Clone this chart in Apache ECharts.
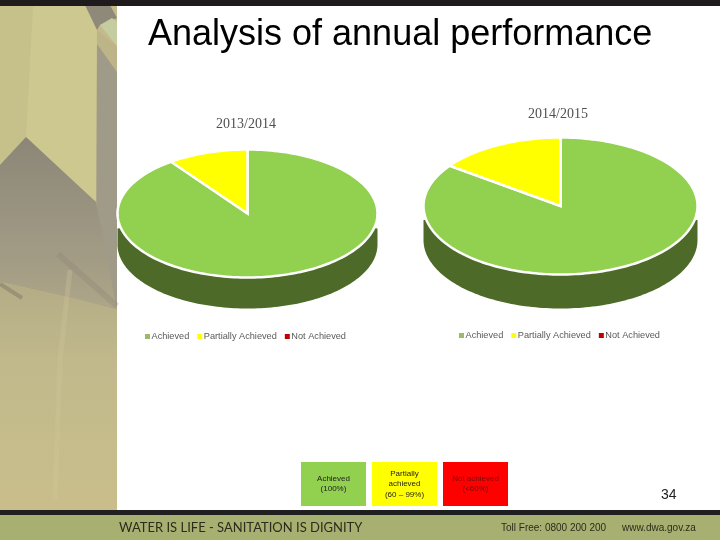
<!DOCTYPE html>
<html>
<head>
<meta charset="utf-8">
<style>
  html, body { margin: 0; padding: 0; background: #fff; }
  #chart { width: 720px; height: 540px; }
</style>
<script src="https://cdn.jsdelivr.net/npm/echarts@6/dist/echarts.min.js"></script>
</head>
<body>
<div id="chart"></div>
<script>
const categories = ['Achieved', 'Partially Achieved', 'Not Achieved']
const years = ['2013/2014', '2014/2015']
const values2013 = [90, 10, 0]
const values2014 = [85, 15, 0]
const keyLabels = ['Achieved\n(100%)', 'Partially\nachieved\n(60 – 99%)', 'Not achieved\n(<60%)']

const topColors = ['#92d050', '#ffff00', '#c00000']
const wallColor = '#4e6a28'
const markerColors = ['#9dba6a', '#ffff00', '#c00000']
const keyColors = ['#92d050', '#ffff00', '#ff0000']
const keyTextColors = ['#222', '#222', '#7a0a0a']

// 椭圆饼的位置
const pies = [
  { values: values2013, cx: 247.5, cy: 213.5, rx: 130, ry: 64, depth: 31, lift: 15 },
  { values: values2014, cx: 560.5, cy: 206, rx: 137, ry: 68.5, depth: 34, lift: 14 }
]

const ellipsePoint = (pie, deg, dy) => {
  const rad = deg * Math.PI / 180
  return [pie.cx + pie.rx * Math.sin(rad), pie.cy + dy - pie.ry * Math.cos(rad)]
}

const arcPoints = (pie, from, to, dy) => {
  const pts = []
  for (let a = from; a < to; a += 1.5) pts.push(ellipsePoint(pie, a, dy))
  pts.push(ellipsePoint(pie, to, dy))
  return pts
}

const makeRenderItem = (pie, catIndex) => (params, api) => {
  const value = api.value(0)
  if (!value) return { type: 'group', children: [] }
  const total = pie.values.reduce((a, b) => a + b, 0)
  const before = pie.values.slice(0, catIndex).reduce((a, b) => a + b, 0)
  const start = before / total * 360
  const end = (before + value) / total * 360
  const children = []
  // 前面的侧壁
  const wallFrom = Math.max(start, 90)
  const wallTo = Math.min(end, 270)
  if (wallTo > wallFrom) {
    const wall = arcPoints(pie, wallFrom, wallTo, pie.depth)
    wall.push([pie.cx - pie.rx, pie.cy + pie.lift], [pie.cx, pie.cy], [pie.cx + pie.rx, pie.cy + pie.lift])
    children.push({ type: 'polygon', shape: { points: wall }, style: { fill: wallColor } })
  }
  // 顶面
  const top = [[pie.cx, pie.cy]].concat(arcPoints(pie, start, end, 0))
  children.push({
    type: 'polygon',
    shape: { points: top },
    style: { fill: topColors[catIndex], stroke: '#fff', lineWidth: 2.5, lineJoin: 'miter' }
  })
  return { type: 'group', children }
}

const series = []
pies.forEach((pie) => {
  categories.forEach((name, i) => {
    series.push({
      type: 'custom',
      name,
      coordinateSystem: 'none',
      silent: true,
      animation: false,
      itemStyle: { color: topColors[i] },
      data: [[pie.values[i]]],
      renderItem: makeRenderItem(pie, i)
    })
  })
})

const legendBase = {
  orient: 'horizontal',
  icon: 'rect',
  itemWidth: 5,
  itemHeight: 5,
  itemGap: 8,
  padding: 0,
  selectedMode: false,
  textStyle: { fontFamily: 'Liberation Sans', fontSize: 9.2, color: '#595959', padding: [0, 0, 0, -3.5] },
  data: categories.map((name, i) => ({ name, itemStyle: { color: markerColors[i] } }))
}

// 左侧照片 (近似)
const photo = [
  { type: 'rect', shape: { x: 0, y: 0, width: 117, height: 511 },
    style: { fill: '#c4bb8d' } },
  { type: 'polygon', shape: { points: [[0, 5], [33, 5], [26, 137], [0, 165]] }, style: { fill: '#c6c08a' } },
  { type: 'polygon', shape: { points: [[33, 5], [85, 5], [97, 30], [96, 200], [92, 202], [26, 137]] }, style: { fill: '#cdc88f' } },
  { type: 'polygon', shape: { points: [[85, 5], [110, 5], [117, 18], [100, 25], [97, 30]] }, style: { fill: '#8f897a' } },
  { type: 'polygon', shape: { points: [[100, 25], [112, 18], [117, 22], [117, 46]] }, style: { fill: '#c5cda0' } },
  { type: 'polygon', shape: { points: [[97, 30], [117, 46], [117, 72], [97, 44]] }, style: { fill: '#bdb588' } },
  { type: 'polygon', shape: { points: [[97, 44], [117, 72], [117, 310], [96, 290]] }, style: { fill: '#a09a88' } },
  { type: 'polygon', shape: { points: [[26, 137], [96, 202], [117, 310], [80, 300], [0, 282], [0, 165]] },
    style: { fill: new echarts.graphic.LinearGradient(0, 0, 0, 1, [
      { offset: 0, color: '#8b8677' }, { offset: 0.5, color: '#9c9582' }, { offset: 1, color: '#ada688' }
    ]) } },
  { type: 'polygon', shape: { points: [[0, 282], [80, 300], [117, 310], [117, 511], [0, 511]] },
    style: { fill: new echarts.graphic.LinearGradient(0, 0, 0, 1, [
      { offset: 0, color: '#b3ab85' }, { offset: 0.35, color: '#c1b98c' }, { offset: 1, color: '#c9be8b' }
    ]) } },
  { type: 'polyline', shape: { points: [[0, 284], [22, 298]] }, style: { stroke: '#7d7768', lineWidth: 4, opacity: 0.5 } },
  { type: 'polyline', shape: { points: [[58, 254], [117, 306]] }, style: { stroke: '#837d6e', lineWidth: 6, opacity: 0.25 } },
  { type: 'polyline', shape: { points: [[70, 270], [60, 360], [55, 500]] }, style: { stroke: '#d0c89a', lineWidth: 5, opacity: 0.3 } }
]

// 底部色块说明
const keyBoxes = keyLabels.map((text, i) => ({
  type: 'rect',
  shape: { x: 301 + i * 71, y: 462, width: 65, height: 44 },
  style: { fill: keyColors[i] },
  textContent: {
    type: 'text',
    style: { text, fill: keyTextColors[i], font: '8px "Liberation Sans"', align: 'center', lineHeight: 10.5 }
  },
  textConfig: { position: 'inside' }
}))

const footer = [
  { type: 'rect', shape: { x: 0, y: 0, width: 720, height: 6 }, style: { fill: '#1f1b1c' } },
  { type: 'rect', shape: { x: 0, y: 510, width: 720, height: 30 }, style: { fill: '#a7b070' } },
  { type: 'rect', shape: { x: 0, y: 510, width: 720, height: 5 }, style: { fill: '#1f1f1f' } },
  { type: 'text', x: 119, y: 521, style: { text: 'WATER IS LIFE - SANITATION IS DIGNITY', fill: '#2c2c1c', font: '13px "Lato"' } },
  { type: 'text', x: 501, y: 523, style: { text: 'Toll Free: 0800 200 200', fill: '#2c2c1c', font: '10px "Liberation Sans"' } },
  { type: 'text', x: 622, y: 523, style: { text: 'www.dwa.gov.za', fill: '#2c2c1c', font: '10px "Liberation Sans"' } },
  { type: 'text', x: 661, y: 488, style: { text: '34', fill: '#222', font: '14px "Liberation Sans"' } }
]

const myChart = echarts.init(document.getElementById('chart'), null, { renderer: 'canvas' })
myChart.setOption({
  animation: false,
  backgroundColor: '#fff',
  title: [
    { text: 'Analysis of annual performance', left: 148, top: 17, padding: 0,
      textStyle: { fontFamily: 'Liberation Sans', fontSize: 36, fontWeight: 'normal', color: '#000' } },
    { text: years[0], left: 216, top: 117, padding: 0,
      textStyle: { fontFamily: 'Liberation Serif', fontSize: 14, fontWeight: 'normal', color: '#505050' } },
    { text: years[1], left: 528, top: 107, padding: 0,
      textStyle: { fontFamily: 'Liberation Serif', fontSize: 14, fontWeight: 'normal', color: '#505050' } }
  ],
  legend: [
    Object.assign({}, legendBase, { left: 145, top: 332 }),
    Object.assign({}, legendBase, { left: 459, top: 331 })
  ],
  graphic: { elements: photo.concat(keyBoxes, footer) },
  series
})
</script>
</body>
</html>
